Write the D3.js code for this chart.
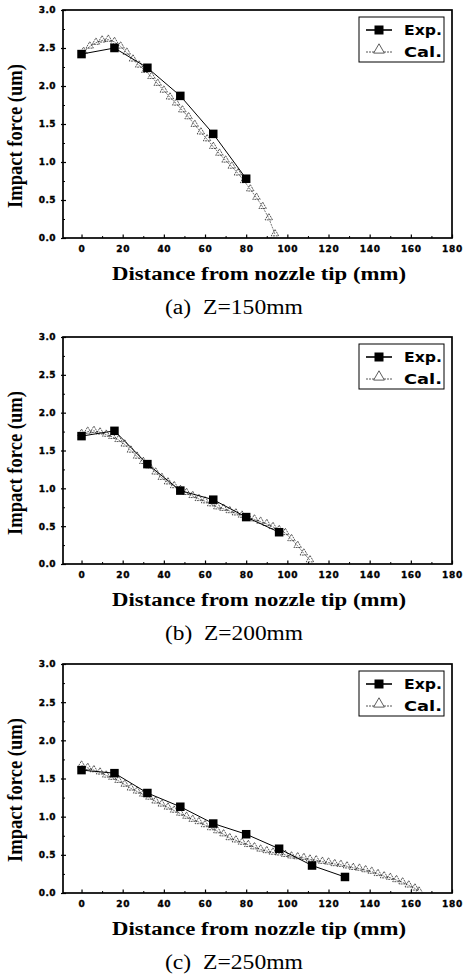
<!DOCTYPE html>
<html>
<head>
<meta charset="utf-8">
<script src="https://cdn.jsdelivr.net/npm/d3@7"></script>
<style>
  html, body { margin: 0; padding: 0; background: #fff; }
  svg { display: block; }
</style>
</head>
<body>
<svg id="chart" width="465" height="974"></svg>
<script>
// ---------------- DATA ----------------
const panelCaptions = ["(a)  Z=150mm", "(b)  Z=200mm", "(c)  Z=250mm"];
const xTicks = [0, 20, 40, 60, 80, 100, 120, 140, 160, 180];
const yTicks = [0.0, 0.5, 1.0, 1.5, 2.0, 2.5, 3.0];
const xTitle = "Distance from nozzle tip (mm)";
const yTitle = "Impact force (um)";
const legendLabels = ["Exp.", "Cal."];

// Experimental (squares)
const expXA = [0, 16, 32, 48, 64, 80];
const expYA = [2.42, 2.50, 2.24, 1.87, 1.37, 0.78];
const expXB = [0, 16, 32, 48, 64, 80, 96];
const expYB = [1.69, 1.76, 1.32, 0.97, 0.85, 0.62, 0.42];
const expXC = [0, 16, 32, 48, 64, 80, 96, 112, 128];
const expYC = [1.61, 1.57, 1.31, 1.13, 0.91, 0.77, 0.58, 0.36, 0.21];

// Calculated (open triangles)
const calXA = [1, 4, 7, 10, 13, 16, 19, 22, 25, 28, 31, 34, 37, 40, 43, 46, 49, 52, 55, 58, 61, 64, 67, 70, 73, 76, 79, 82, 85, 88, 91, 94];
const calYA = [2.45, 2.52, 2.57, 2.60, 2.61, 2.58, 2.52, 2.44, 2.35, 2.27, 2.20, 2.12, 2.03, 1.94, 1.85, 1.77, 1.68, 1.59, 1.49, 1.39, 1.30, 1.20, 1.11, 1.02, 0.94, 0.85, 0.75, 0.64, 0.53, 0.41, 0.26, 0.05];
const calXB = [0, 3, 6, 9, 12, 15, 18, 21, 24, 27, 30, 33, 36, 39, 42, 45, 48, 51, 54, 57, 60, 63, 66, 69, 72, 75, 78, 81, 84, 87, 90, 93, 96, 99, 102, 105, 108, 111];
const calYB = [1.72, 1.75, 1.76, 1.74, 1.71, 1.68, 1.64, 1.58, 1.50, 1.42, 1.35, 1.29, 1.21, 1.14, 1.08, 1.03, 0.98, 0.94, 0.90, 0.86, 0.83, 0.79, 0.75, 0.73, 0.70, 0.67, 0.64, 0.61, 0.59, 0.56, 0.53, 0.49, 0.45, 0.41, 0.33, 0.24, 0.14, 0.05];
const calXC = [0, 3, 6, 9, 12, 15, 18, 21, 24, 27, 30, 33, 36, 39, 42, 45, 48, 51, 54, 57, 60, 63, 66, 69, 72, 75, 78, 81, 84, 87, 90, 93, 96, 99, 102, 105, 108, 111, 114, 117, 120, 123, 126, 129, 132, 135, 138, 141, 144, 147, 150, 153, 156, 159, 162, 164];
const calYC = [1.67, 1.64, 1.61, 1.58, 1.54, 1.51, 1.47, 1.42, 1.37, 1.33, 1.29, 1.25, 1.20, 1.16, 1.12, 1.08, 1.04, 1.00, 0.96, 0.93, 0.89, 0.85, 0.81, 0.77, 0.72, 0.69, 0.66, 0.63, 0.60, 0.57, 0.55, 0.53, 0.52, 0.50, 0.48, 0.47, 0.46, 0.44, 0.43, 0.41, 0.40, 0.38, 0.37, 0.35, 0.33, 0.32, 0.30, 0.28, 0.25, 0.22, 0.20, 0.17, 0.14, 0.10, 0.06, 0.02];

const expX = [expXA, expXB, expXC];
const expY = [expYA, expYB, expYC];
const calX = [calXA, calXB, calXC];
const calY = [calYA, calYB, calYC];

// ---------------- LAYOUT ----------------
const panelTops = [10, 337, 664];
const panelBottoms = [238, 564, 893];
const plotLeft = 63, plotRight = 452;

const svg = d3.select("#chart");

panelCaptions.forEach((cap, i) => {
  const top = panelTops[i], bottom = panelBottoms[i];
  const x = d3.scaleLinear().domain([-9, 180]).range([plotLeft, plotRight]);
  const y = d3.scaleLinear().domain([0, 3]).range([bottom, top]);
  const g = svg.append("g");

  // frame
  g.append("rect")
    .attr("x", plotLeft).attr("y", top)
    .attr("width", plotRight - plotLeft).attr("height", bottom - top)
    .attr("fill", "none").attr("stroke", "#000").attr("stroke-width", 1.7);

  // x axis ticks (inward) + labels
  const xAx = d3.axisBottom(x).tickValues(xTicks).tickSize(-3.5).tickPadding(8).tickFormat(d3.format("d"));
  const xg = g.append("g").attr("transform", `translate(0,${bottom})`).call(xAx);
  xg.select(".domain").remove();
  xg.selectAll("line").attr("stroke", "#000").attr("stroke-width", 1.2);
  xg.selectAll("text")
    .attr("font-family", "DejaVu Sans, sans-serif").attr("font-weight", "bold")
    .attr("font-size", 9).attr("letter-spacing", 0.7).attr("fill", "#000")
    .attr("stroke", "#000").attr("stroke-width", 0.35);
  // minor x ticks
  const xMinor = d3.axisBottom(x).tickValues(xTicks.slice(0, -1).map(v => v + 10)).tickSize(-2).tickFormat("");
  const xm = g.append("g").attr("transform", `translate(0,${bottom})`).call(xMinor);
  xm.select(".domain").remove();
  xm.selectAll("line").attr("stroke", "#000").attr("stroke-width", 1);

  // y axis ticks + labels
  const yAx = d3.axisLeft(y).tickValues(yTicks).tickSize(2).tickPadding(5).tickFormat(d3.format(".1f"));
  const yg = g.append("g").attr("transform", `translate(${plotLeft},0)`).call(yAx);
  yg.select(".domain").remove();
  yg.selectAll("line").attr("stroke", "#000").attr("stroke-width", 1.2).attr("x2", -2).attr("x1", 3);
  yg.selectAll("text")
    .attr("font-family", "DejaVu Sans, sans-serif").attr("font-weight", "bold")
    .attr("font-size", 9).attr("letter-spacing", 0.4).attr("fill", "#000")
    .attr("stroke", "#000").attr("stroke-width", 0.35);
  const yMinor = d3.axisLeft(y).tickValues(yTicks.slice(0, -1).map(v => v + 0.25)).tickSize(-2).tickFormat("");
  const ym = g.append("g").attr("transform", `translate(${plotLeft},0)`).call(yMinor);
  ym.select(".domain").remove();
  ym.selectAll("line").attr("stroke", "#000").attr("stroke-width", 1);

  // calculated series
  const calPts = calX[i].map((v, k) => [v, calY[i][k]]);
  g.append("path")
    .datum(calPts)
    .attr("d", d3.line().x(d => x(d[0])).y(d => y(d[1])))
    .attr("fill", "none").attr("stroke", "#555").attr("stroke-width", 0.8)
    .attr("stroke-dasharray", "2,1");
  const tri = d3.symbol().type(d3.symbolTriangle).size(24);
  g.selectAll(".cal").data(calPts).enter().append("path")
    .attr("d", tri)
    .attr("transform", d => `translate(${x(d[0])},${y(d[1]) - 0.5})`)
    .attr("fill", "none").attr("stroke", "#222").attr("stroke-width", 0.75)
    .attr("stroke-dasharray", "2,0.8");

  // experimental series
  const expPts = expX[i].map((v, k) => [v, expY[i][k]]);
  g.append("path")
    .datum(expPts)
    .attr("d", d3.line().x(d => x(d[0])).y(d => y(d[1])))
    .attr("fill", "none").attr("stroke", "#000").attr("stroke-width", 1);
  g.selectAll(".exp").data(expPts).enter().append("rect")
    .attr("x", d => x(d[0]) - 4.25).attr("y", d => y(d[1]) - 4.25)
    .attr("width", 8.5).attr("height", 8.5).attr("fill", "#000");

  // legend
  const lg = g.append("g").attr("transform", `translate(359,${top + 7})`);
  lg.append("rect").attr("x", 0).attr("y", 0).attr("width", 85).attr("height", 45)
    .attr("fill", "#fff").attr("stroke", "#000").attr("stroke-width", 1);
  lg.append("line").attr("x1", 7).attr("x2", 33).attr("y1", 13).attr("y2", 13)
    .attr("stroke", "#000").attr("stroke-width", 1.6);
  lg.append("rect").attr("x", 15.5).attr("y", 8.5).attr("width", 9).attr("height", 9).attr("fill", "#000");
  lg.append("line").attr("x1", 7).attr("x2", 33).attr("y1", 35).attr("y2", 35)
    .attr("stroke", "#444").attr("stroke-width", 0.9).attr("stroke-dasharray", "2,1");
  lg.append("path").attr("d", d3.symbol().type(d3.symbolTriangle).size(50))
    .attr("transform", "translate(20,33)")
    .attr("fill", "#fff").attr("stroke", "#333").attr("stroke-width", 0.8);
  legendLabels.forEach((t, k) => {
    lg.append("text").attr("x", 45).attr("y", k === 0 ? 18 : 40)
      .attr("font-family", "DejaVu Sans, sans-serif").attr("font-weight", "bold")
      .attr("font-size", 13.5).attr("textLength", 38).attr("lengthAdjust", "spacingAndGlyphs")
      .attr("fill", "#000").text(t);
  });

  // x title
  g.append("text").attr("x", 259).attr("y", bottom + 42)
    .attr("text-anchor", "middle")
    .attr("font-family", "Liberation Serif, serif").attr("font-weight", "bold")
    .attr("font-size", 18).attr("textLength", 294).attr("lengthAdjust", "spacingAndGlyphs")
    .attr("fill", "#000").text(xTitle);

  // y title
  g.append("text")
    .attr("transform", `translate(22,${top + 126}) rotate(-90)`)
    .attr("text-anchor", "middle")
    .attr("font-family", "Liberation Serif, serif").attr("font-weight", "bold")
    .attr("font-size", 20).attr("textLength", 144).attr("lengthAdjust", "spacingAndGlyphs")
    .attr("fill", "#000").text(yTitle);

  // caption
  g.append("text").attr("x", 234).attr("y", bottom + 76)
    .attr("text-anchor", "middle")
    .attr("font-family", "Liberation Serif, serif")
    .attr("font-size", 20).attr("textLength", 138).attr("lengthAdjust", "spacingAndGlyphs")
    .attr("xml:space", "preserve")
    .attr("fill", "#000").text(cap);
});
</script>
</body>
</html>
